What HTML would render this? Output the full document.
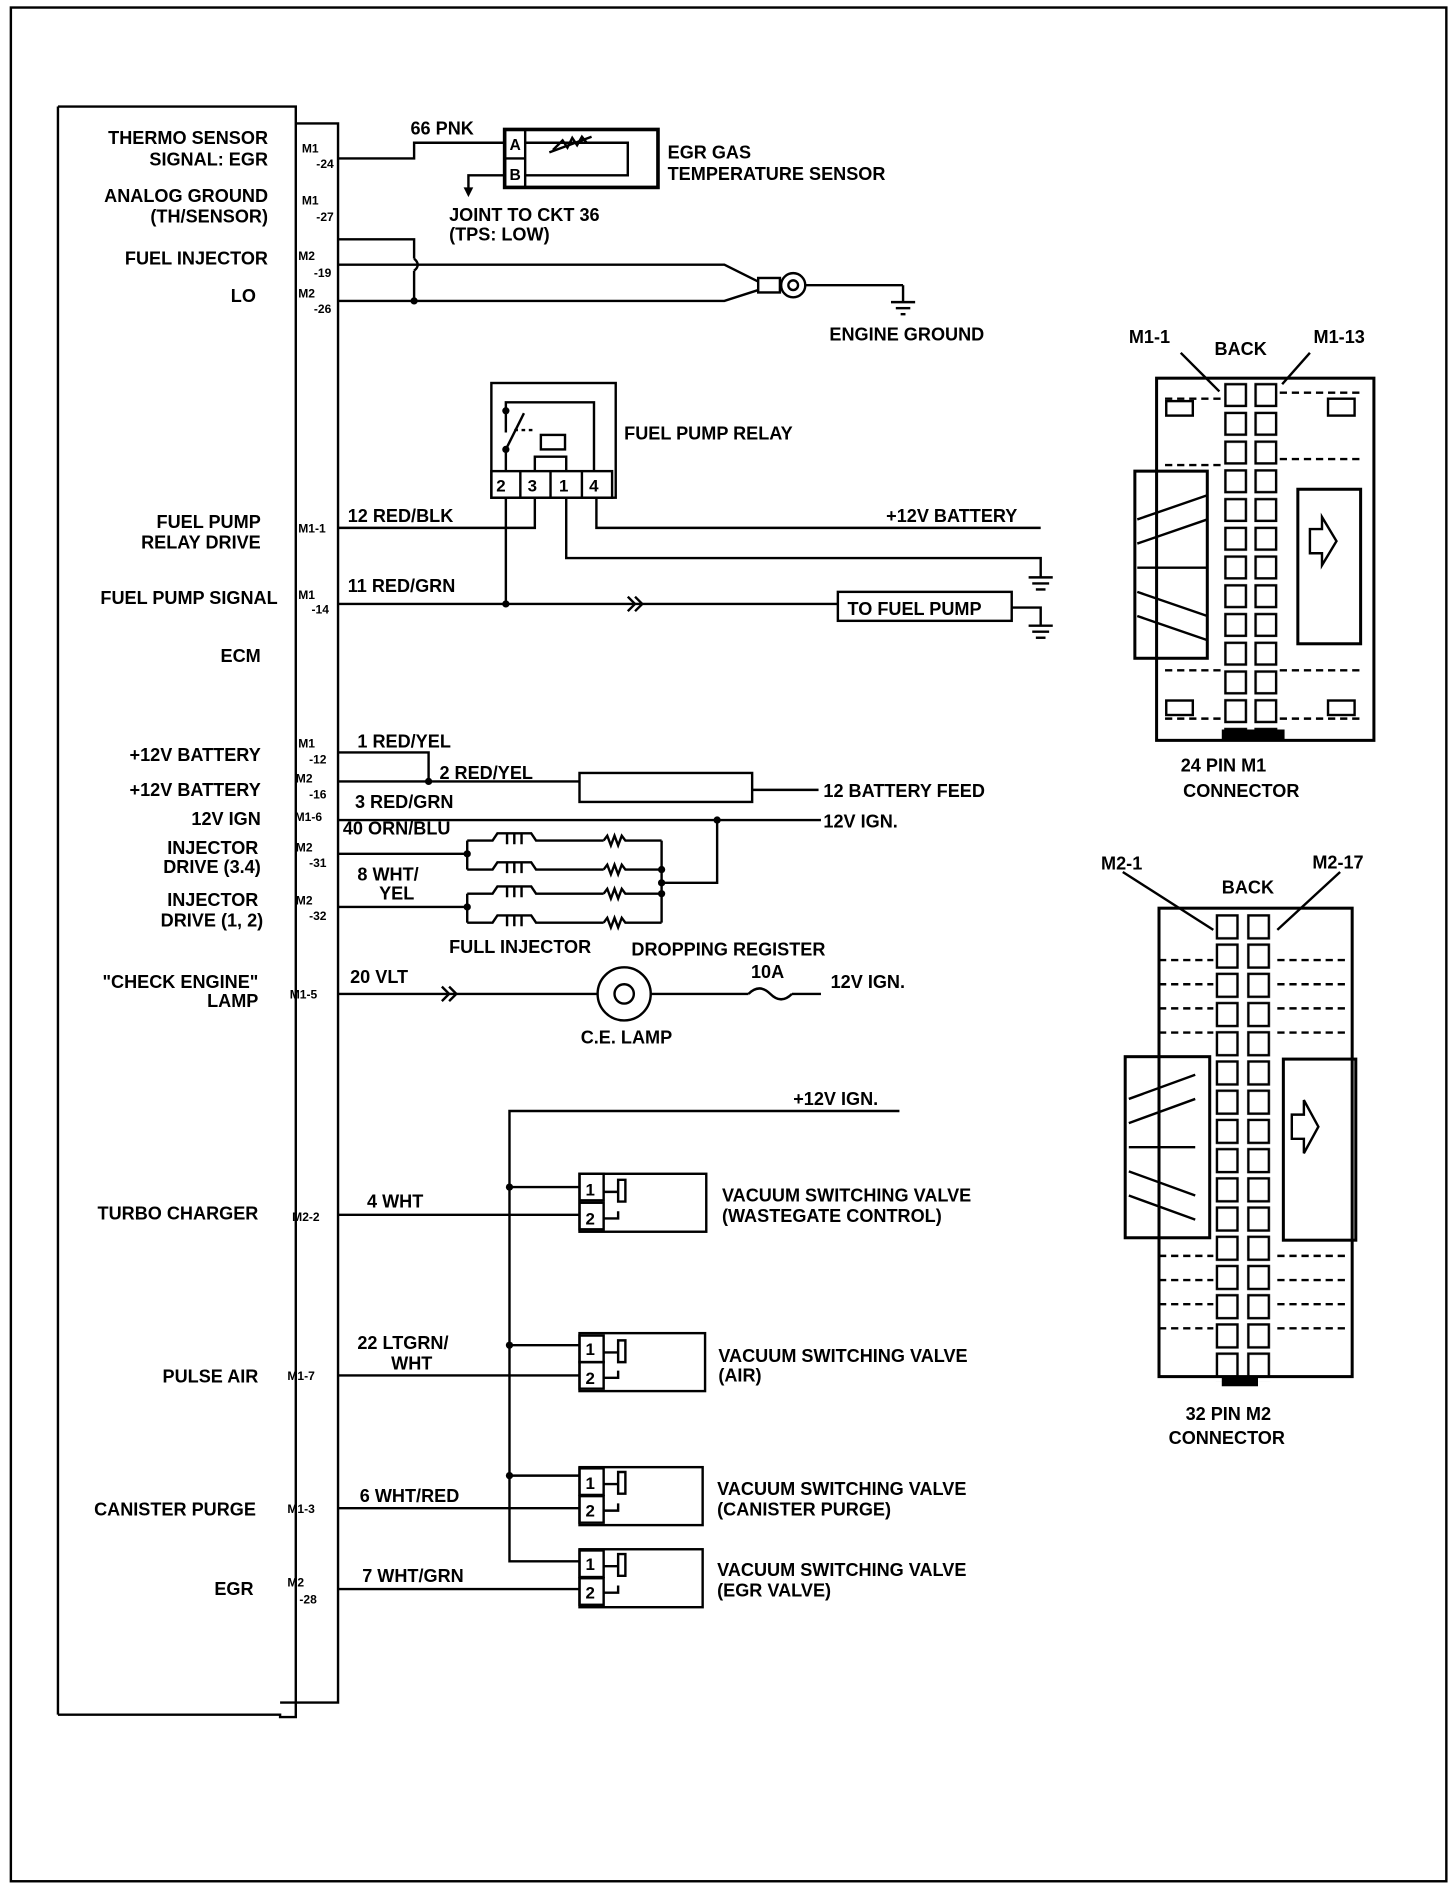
<!DOCTYPE html>
<html><head><meta charset="utf-8"><style>
html,body{margin:0;padding:0;background:#fff}
svg{display:block}
text{font-family:"Liberation Sans",sans-serif;font-weight:bold;fill:#000}
</style></head><body>
<svg width="1456" height="1890" viewBox="0 0 1206 1565" xmlns="http://www.w3.org/2000/svg">
<defs>
<pattern id="p1" x="1013" y="316" width="25" height="23.8" patternUnits="userSpaceOnUse"><rect x="2" y="2" width="17" height="18" fill="none" stroke="#000" stroke-width="2"/></pattern>
<pattern id="p2" x="1006" y="756" width="26" height="24.2" patternUnits="userSpaceOnUse"><rect x="2" y="2" width="17" height="19" fill="none" stroke="#000" stroke-width="2"/></pattern>
</defs>
<rect x="0" y="0" width="1206" height="1565" fill="#fff"/>
<g fill="none" stroke="#000" stroke-width="2">
<rect x="9" y="6" width="1189" height="1552"/>
<!-- ECM -->
<polyline points="48,88 245,88 245,1422 232,1422 232,1420 48,1420"/>
<line x1="48" y1="88" x2="48" y2="1420"/>
<polyline points="245,102 280,102 280,1410 232,1410"/>
<!-- EGR sensor -->
<polyline points="280,131 343,131 343,118 418,118"/>
<rect x="418" y="107" width="127" height="48" stroke-width="3"/>
<line x1="435" y1="107" x2="435" y2="155"/>
<line x1="418" y1="131" x2="435" y2="131"/>
<polyline points="435,118 520,118 520,145 435,145"/>
<polyline points="458,124 466,116 470,122 474,114 478,120 482,113 486,118" />
<line x1="455" y1="126" x2="490" y2="113"/>
<polyline points="418,145 388,145 388,160"/>
<!-- ground wires -->
<polyline points="280,198 343,198 343,214"/>
<path d="M343,214 q6,5 0,10"/>
<line x1="343" y1="224" x2="343" y2="249"/>
<polyline points="280,219 600,219 628,233"/>
<polyline points="280,249 600,249 628,240"/>
<rect x="628" y="230" width="18" height="12"/>
<circle cx="657" cy="236" r="10"/>
<circle cx="657" cy="236" r="4"/>
<line x1="667" y1="236" x2="748" y2="236"/>
<line x1="748" y1="236" x2="748" y2="250"/>
<line x1="738" y1="250" x2="758" y2="250"/><line x1="742" y1="255" x2="754" y2="255"/><line x1="746" y1="260" x2="750" y2="260"/>
<!-- relay -->
<rect x="407" y="317" width="103" height="95"/>
<rect x="407" y="390" width="100" height="22"/>
<line x1="431" y1="390" x2="431" y2="412"/><line x1="456" y1="390" x2="456" y2="412"/><line x1="482" y1="390" x2="482" y2="412"/>
<polyline points="419,390 419,372"/><line x1="419" y1="372" x2="434" y2="342"/><polyline points="419,358 419,340"/>
<polyline points="419,340 419,333 492,333 492,390"/>
<line x1="426" y1="356" x2="444" y2="356" stroke-dasharray="3,3"/>
<polyline points="443,390 443,378 469,378 469,390"/>
<rect x="448" y="360" width="20" height="12"/>
<polyline points="280,437 443,437 443,412"/>
<polyline points="419,412 419,500"/>
<polyline points="469,412 469,462 862,462 862,478"/>
<polyline points="494,412 494,437 862,437"/>
<line x1="852" y1="478" x2="872" y2="478"/><line x1="855" y1="483" x2="869" y2="483"/><line x1="858" y1="488" x2="866" y2="488"/>
<line x1="280" y1="500" x2="694" y2="500"/>
<polyline points="520,494 526,500 520,506"/><polyline points="526,494 532,500 526,506"/>
<rect x="694" y="490" width="144" height="24"/>
<polyline points="838,503 862,503 862,518"/>
<line x1="852" y1="518" x2="872" y2="518"/><line x1="855" y1="523" x2="869" y2="523"/><line x1="858" y1="528" x2="866" y2="528"/>
<!-- battery feed -->
<polyline points="280,623 355,623 355,647"/>
<line x1="280" y1="647" x2="480" y2="647"/>
<rect x="480" y="640" width="143" height="24"/>
<line x1="623" y1="654" x2="678" y2="654"/>
<line x1="280" y1="679" x2="680" y2="679"/>
<!-- injectors -->
<line x1="280" y1="707" x2="387" y2="707"/>
<line x1="280" y1="751" x2="387" y2="751"/>
<polyline points="387,696 387,720"/><polyline points="387,740 387,764"/>
<polyline points="548,696 548,764"/>
<polyline points="548,731 594,731 594,679"/>
<g id="inj">
<polyline points="387,696 408,696 412,690 440,690 444,696 500,696"/>
<polyline points="500,696 503,692 506,700 509,692 512,700 515,692 518,696 548,696"/>
<path d="M420,690 v9 M426,690 v9 M432,690 v9"/>
</g>
<use href="#inj" y="24"/><use href="#inj" y="44"/><use href="#inj" y="68"/>
<!-- check engine -->
<line x1="280" y1="823" x2="495" y2="823"/>
<polyline points="366,817 372,823 366,829"/><polyline points="372,817 378,823 372,829"/>
<circle cx="517" cy="823" r="22"/><circle cx="517" cy="823" r="8"/>
<line x1="539" y1="823" x2="620" y2="823"/>
<path d="M620,823 q9,-9 18,0 q9,9 18,0"/>
<line x1="656" y1="823" x2="680" y2="823"/>
<!-- valves -->
<polyline points="745,920 422,920 422,1293 480,1293"/>
<line x1="280" y1="1006" x2="480" y2="1006"/>
<line x1="422" y1="983" x2="480" y2="983"/>
<rect x="480" y="972" width="105" height="48"/><rect x="480" y="972" width="20" height="22"/><rect x="480" y="996" width="20" height="22"/>
<line x1="280" y1="1139" x2="480" y2="1139"/>
<line x1="422" y1="1114" x2="480" y2="1114"/>
<rect x="480" y="1104" width="104" height="48"/><rect x="480" y="1106" width="20" height="22"/><rect x="480" y="1128" width="20" height="22"/>
<line x1="280" y1="1249" x2="480" y2="1249"/>
<line x1="422" y1="1222" x2="480" y2="1222"/>
<rect x="480" y="1215" width="102" height="48"/><rect x="480" y="1216" width="20" height="22"/><rect x="480" y="1239" width="20" height="22"/>
<line x1="280" y1="1316" x2="480" y2="1316"/>
<rect x="480" y="1283" width="102" height="48"/><rect x="480" y="1284" width="20" height="22"/><rect x="480" y="1307" width="20" height="22"/>
<path d="M500,987 h12 v-10 h6 v18 h-6 v-8 M500,1009 h12 v-6 M500,1120 h12 v-10 h6 v18 h-6 v-8 M500,1141 h12 v-6 M500,1229 h12 v-10 h6 v18 h-6 v-8 M500,1251 h12 v-6 M500,1297 h12 v-10 h6 v18 h-6 v-8 M500,1319 h12 v-6"/>
<!-- M1 connector -->
<rect x="958" y="313" width="180" height="300" stroke-width="2.5"/>
<rect x="940" y="390" width="60" height="155" stroke-width="2.5"/>
<rect x="1075" y="405" width="52" height="128" stroke-width="2.5"/>
<rect x="1013" y="316" width="50" height="288" fill="url(#p1)" stroke="none"/>
<line x1="965" y1="330" x2="1013" y2="330" stroke-dasharray="6,4"/><line x1="1060" y1="325" x2="1130" y2="325" stroke-dasharray="6,4"/>
<line x1="965" y1="385" x2="1013" y2="385" stroke-dasharray="6,4"/><line x1="1060" y1="380" x2="1130" y2="380" stroke-dasharray="6,4"/>
<line x1="965" y1="555" x2="1013" y2="555" stroke-dasharray="6,4"/><line x1="1060" y1="555" x2="1130" y2="555" stroke-dasharray="6,4"/>
<line x1="965" y1="595" x2="1013" y2="595" stroke-dasharray="6,4"/><line x1="1060" y1="595" x2="1130" y2="595" stroke-dasharray="6,4"/>
<rect x="966" y="332" width="22" height="12"/><rect x="1100" y="330" width="22" height="14"/><rect x="966" y="580" width="22" height="12"/><rect x="1100" y="580" width="22" height="12"/>
<path d="M1085,438 h10 v-10 l12,20 l-12,20 v-10 h-10 z"/>
<path d="M942,430 l58,-20 M942,450 l58,-20 M942,470 h58 M942,490 l58,20 M942,510 l58,20"/>
<line x1="978" y1="292" x2="1010" y2="324"/><line x1="1085" y1="292" x2="1062" y2="318"/>
<!-- M2 connector -->
<rect x="960" y="752" width="160" height="388" stroke-width="2.5"/>
<rect x="932" y="875" width="70" height="150" stroke-width="2.5"/>
<rect x="1063" y="877" width="60" height="150" stroke-width="2.5"/>
<rect x="1006" y="756" width="52" height="388" fill="url(#p2)" stroke="none"/>
<path d="M960,795 h45 M1058,795 h60 M960,815 h45 M1058,815 h60 M960,835 h45 M1058,835 h60 M960,855 h45 M1058,855 h60 M960,1040 h45 M1058,1040 h60 M960,1060 h45 M1058,1060 h60 M960,1080 h45 M1058,1080 h60 M960,1100 h45 M1058,1100 h60" stroke-dasharray="6,4"/>
<path d="M1070,923 h10 v-12 l12,22 l-12,22 v-12 h-10 z"/>
<path d="M935,910 l55,-20 M935,930 l55,-20 M935,950 h55 M935,970 l55,20 M935,990 l55,20"/>
<line x1="930" y1="722" x2="1005" y2="770"/><line x1="1110" y1="722" x2="1058" y2="770"/>
</g>
<g fill="#000">
<circle cx="343" cy="249" r="3"/><circle cx="419" cy="500" r="3"/><circle cx="355" cy="647" r="3"/><circle cx="594" cy="679" r="3"/>
<circle cx="387" cy="707" r="3"/><circle cx="387" cy="751" r="3"/><circle cx="548" cy="720" r="3"/><circle cx="548" cy="731" r="3"/><circle cx="548" cy="740" r="3"/>
<circle cx="422" cy="983" r="3"/><circle cx="422" cy="1114" r="3"/><circle cx="422" cy="1222" r="3"/><circle cx="419" cy="372" r="3"/><circle cx="419" cy="340" r="3"/>
<path d="M384,155 h8 l-4,8 z"/>
<rect x="1012" y="604" width="52" height="8"/><rect x="1012" y="1140" width="30" height="8"/>
</g>
<g font-size="15" text-anchor="end">
<text x="222" y="119">THERMO SENSOR</text><text x="222" y="137">SIGNAL: EGR</text>
<text x="222" y="167">ANALOG GROUND</text><text x="222" y="184">(TH/SENSOR)</text>
<text x="222" y="219">FUEL INJECTOR</text><text x="212" y="250">LO</text>
<text x="216" y="437">FUEL PUMP</text><text x="216" y="454">RELAY DRIVE</text>
<text x="230" y="500">FUEL PUMP SIGNAL</text><text x="216" y="548">ECM</text>
<text x="216" y="630">+12V BATTERY</text><text x="216" y="659">+12V BATTERY</text><text x="216" y="683">12V IGN</text>
<text x="214" y="707">INJECTOR</text><text x="216" y="723">DRIVE (3.4)</text>
<text x="214" y="750">INJECTOR</text><text x="218" y="767">DRIVE (1, 2)</text>
<text x="214" y="818">"CHECK ENGINE"</text><text x="214" y="834">LAMP</text>
<text x="214" y="1010">TURBO CHARGER</text><text x="214" y="1145">PULSE AIR</text><text x="212" y="1255">CANISTER PURGE</text><text x="210" y="1321">EGR</text>
</g>
<g font-size="10" text-anchor="start">
<text x="250" y="126">M1</text><text x="262" y="139">-24</text>
<text x="250" y="169">M1</text><text x="262" y="183">-27</text>
<text x="247" y="215">M2</text><text x="260" y="229">-19</text>
<text x="247" y="246">M2</text><text x="260" y="259">-26</text>
<text x="247" y="441">M1-1</text>
<text x="247" y="496">M1</text><text x="258" y="508">-14</text>
<text x="247" y="619">M1</text><text x="256" y="632">-12</text>
<text x="245" y="648">M2</text><text x="256" y="661">-16</text>
<text x="244" y="680">M1-6</text>
<text x="245" y="705">M2</text><text x="256" y="718">-31</text>
<text x="245" y="749">M2</text><text x="256" y="762">-32</text>
<text x="240" y="827">M1-5</text><text x="242" y="1011">M2-2</text><text x="238" y="1143">M1-7</text><text x="238" y="1253">M1-3</text>
<text x="238" y="1314">M2</text><text x="248" y="1328">-28</text>
<text x="422" y="124" font-size="13">A</text><text x="422" y="149" font-size="13">B</text>
<text x="411" y="407" font-size="14">2</text><text x="437" y="407" font-size="14">3</text><text x="463" y="407" font-size="14">1</text><text x="488" y="407" font-size="14">4</text>
<text x="485" y="990" font-size="14">1</text><text x="485" y="1014" font-size="14">2</text>
<text x="485" y="1122" font-size="14">1</text><text x="485" y="1146" font-size="14">2</text>
<text x="485" y="1233" font-size="14">1</text><text x="485" y="1256" font-size="14">2</text>
<text x="485" y="1300" font-size="14">1</text><text x="485" y="1324" font-size="14">2</text>
</g>
<g font-size="15">
<text x="340" y="111">66 PNK</text>
<text x="553" y="131">EGR GAS</text><text x="553" y="149">TEMPERATURE SENSOR</text>
<text x="372" y="183">JOINT TO CKT 36</text><text x="372" y="199">(TPS: LOW)</text>
<text x="687" y="282">ENGINE GROUND</text>
<text x="517" y="364">FUEL PUMP RELAY</text>
<text x="288" y="432">12 RED/BLK</text><text x="734" y="432">+12V BATTERY</text>
<text x="288" y="490">11 RED/GRN</text><text x="702" y="509">TO FUEL PUMP</text>
<text x="296" y="619">1 RED/YEL</text><text x="364" y="645">2 RED/YEL</text><text x="682" y="660">12 BATTERY FEED</text>
<text x="294" y="669">3 RED/GRN</text><text x="682" y="685">12V IGN.</text>
<text x="284" y="691">40 ORN/BLU</text>
<text x="296" y="729">8 WHT/</text><text x="314" y="745">YEL</text>
<text x="372" y="789">FULL INJECTOR</text><text x="523" y="791">DROPPING REGISTER</text>
<text x="290" y="814">20 VLT</text><text x="622" y="810">10A</text><text x="688" y="818">12V IGN.</text>
<text x="481" y="864">C.E. LAMP</text>
<text x="657" y="915">+12V IGN.</text>
<text x="304" y="1000">4 WHT</text>
<text x="598" y="995">VACUUM SWITCHING VALVE</text><text x="598" y="1012">(WASTEGATE CONTROL)</text>
<text x="296" y="1117">22 LTGRN/</text><text x="324" y="1134">WHT</text>
<text x="595" y="1128">VACUUM SWITCHING VALVE</text><text x="595" y="1144">(AIR)</text>
<text x="298" y="1244">6 WHT/RED</text>
<text x="594" y="1238">VACUUM SWITCHING VALVE</text><text x="594" y="1255">(CANISTER PURGE)</text>
<text x="300" y="1310">7 WHT/GRN</text>
<text x="594" y="1305">VACUUM SWITCHING VALVE</text><text x="594" y="1322">(EGR VALVE)</text>
<text x="935" y="284">M1-1</text><text x="1006" y="294">BACK</text><text x="1088" y="284">M1-13</text>
<text x="978" y="639">24 PIN  M1</text><text x="980" y="660">CONNECTOR</text>
<text x="912" y="720">M2-1</text><text x="1012" y="740">BACK</text><text x="1087" y="719">M2-17</text>
<text x="982" y="1176">32 PIN M2</text><text x="968" y="1196">CONNECTOR</text>
</g>
</svg>
</body></html>
